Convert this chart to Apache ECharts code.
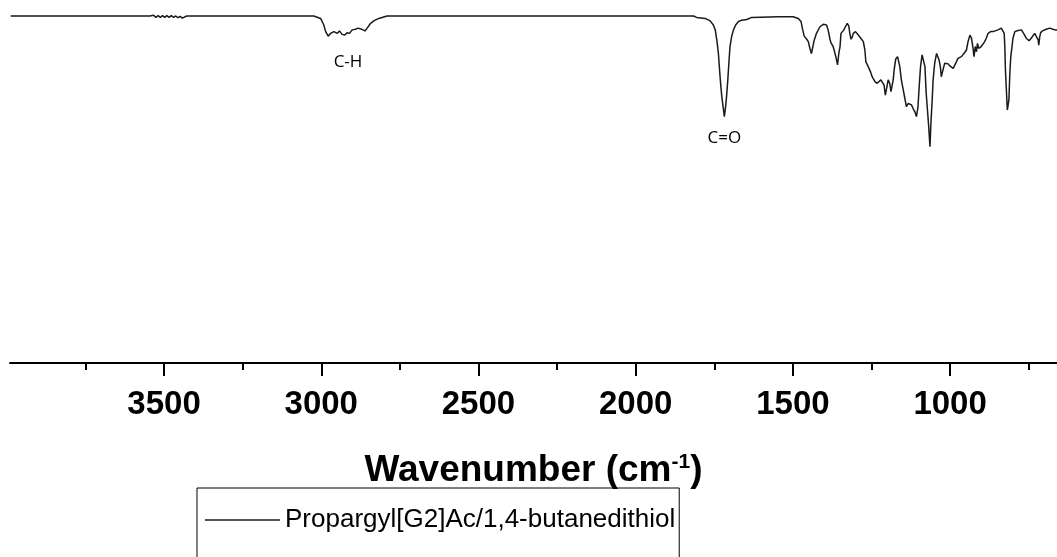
<!DOCTYPE html>
<html>
<head>
<meta charset="utf-8">
<script src="https://cdn.jsdelivr.net/npm/echarts@6/dist/echarts.min.js"></script>
<style>
html,body{margin:0;padding:0;background:#ffffff;}
#chart{width:1057px;height:557px;}
</style>
</head>
<body>
<div id="chart"></div>
<script>
// ---- data (wavenumber in cm^-1, transmittance in %) ----
const wavenumbers = [
  3988, 3600, 3545, 3540, 3533, 3526, 3519, 3512, 3505, 3498, 3491, 3484, 3477, 3470, 3463, 3456, 3449, 3442, 3436, 3428,
  3200, 3024, 3002, 2992, 2986, 2978, 2970, 2960, 2949, 2942, 2934, 2925, 2918, 2910, 2902, 2891, 2883, 2872, 2861, 2854,
  2843, 2833, 2817, 2791, 2500, 2156, 2152, 2148, 1959, 1816, 1806, 1779, 1763, 1753, 1747, 1742, 1737, 1734, 1730, 1726,
  1722, 1718, 1714, 1711, 1707, 1703, 1700, 1695, 1689, 1682, 1673, 1663, 1647, 1631, 1546, 1499, 1483, 1474, 1470, 1464,
  1456, 1451, 1446, 1441, 1435, 1432, 1425, 1414, 1403, 1393, 1388, 1382, 1379, 1375, 1372, 1366, 1361, 1358, 1354, 1350,
  1347, 1343, 1338, 1333, 1327, 1322, 1319, 1315, 1311, 1308, 1301, 1292, 1284, 1276, 1271, 1268, 1263, 1258, 1253, 1248,
  1239, 1232, 1226, 1220, 1215, 1210, 1206, 1201, 1197, 1192, 1188, 1184, 1181, 1178, 1173, 1167, 1160, 1155, 1149, 1144,
  1139, 1133, 1128, 1123, 1118, 1112, 1107, 1102, 1099, 1094, 1089, 1084, 1080, 1076, 1072, 1068, 1064, 1061, 1057, 1054,
  1049, 1043, 1038, 1035, 1031, 1028, 1024, 1020, 1017, 1012, 1006, 1001, 996, 990, 985, 980, 975, 964, 956, 948,
  943, 937, 932, 927, 924, 920, 916, 913, 909, 905, 901, 895, 890, 885, 879, 871, 863, 858, 848, 837,
  832, 828, 826, 824, 821, 818, 813, 810, 807, 803, 800, 794, 784, 773, 768, 763, 758, 749, 742, 736,
  731, 726, 720, 718, 715, 712, 705, 694, 683, 673, 666, 660
];
const transmittance = [
  100, 100, 100, 99.7, 100.2, 99.6, 100.1, 99.6, 100.1, 99.6, 100.1, 99.6, 100.1, 99.6, 100, 99.5, 99.9, 99.4, 99.8, 100,
  100, 100, 99.3, 97.4, 95.5, 94.2, 95.0, 95.5, 95.0, 95.7, 94.7, 94.5, 95.2, 95.0, 96.0, 96.2, 96.5, 96.2, 95.7, 96.5,
  97.9, 98.6, 99.3, 100, 100, 100, 100.5, 100, 100, 100, 99.6, 99.3, 98.6, 97.4, 96.0, 93.1, 89.3, 85.4, 80.6, 76.7,
  73.9, 71.0, 73.9, 76.7, 81.6, 87.3, 91.2, 94.0, 96.0, 97.4, 98.4, 98.8, 99.0, 99.6, 99.8, 99.8, 99.3, 98.4, 96.5, 94.2,
  93.3, 92.6, 90.7, 89.2, 89.2, 93.1, 95.0, 96.9, 97.6, 97.4, 96.0, 93.3, 92.3, 92.6, 91.2, 89.2, 87.3, 85.9, 89.2, 91.2,
  95.0, 95.5, 96.0, 96.9, 97.9, 97.1, 95.0, 93.3, 94.0, 95.0, 95.5, 94.5, 93.6, 92.6, 90.2, 86.8, 85.9, 84.9, 83.9, 82.5,
  81.1, 80.6, 80.1, 81.6, 81.8, 80.1, 77.2, 79.6, 81.6, 80.6, 78.2, 77.7, 81.6, 84.4, 87.6, 88.3, 85.4, 81.6, 78.7, 76.3,
  73.9, 74.8, 75.3, 74.4, 73.4, 72.4, 71.0, 73.9, 78.7, 85.4, 88.8, 89.2, 85.4, 77.7, 72.9, 68.1, 62.3, 69.1, 75.8, 81.6,
  86.4, 89.2, 89.2, 87.3, 85.4, 82.5, 83.0, 85.4, 86.4, 85.9, 86.2, 85.6, 85.9, 84.9, 84.9, 86.8, 87.8, 88.3, 89.2, 90.2,
  92.6, 94.5, 93.6, 90.7, 88.3, 91.2, 89.7, 92.1, 90.7, 90.2, 91.2, 91.6, 92.6, 93.6, 95.0, 95.5, 95.5, 95.8, 96.0, 96.5,
  96.2, 95.0, 91.2, 84.4, 78.7, 72.9, 75.8, 83.5, 88.3, 91.2, 93.6, 95.5, 95.8, 96.0, 95.5, 94.5, 93.6, 92.9, 93.6, 94.0,
  95.0, 94.5, 93.1, 91.6, 94.0, 95.2, 95.8, 96.2, 96.5, 96.2, 96.0, 96.0
];
const majorTicks = [1000, 1500, 2000, 2500, 3000, 3500];
const minorTicks = [750, 1250, 1750, 2250, 2750, 3250, 3750];
const seriesName = 'Propargyl[G2]Ac/1,4-butanedithiol';
const bandLabels = ['C-H', 'C=O'];
const bandWavenumbers = [2915, 1718];
const bandLabelLevels = [86.7, 64.8];

const spectrum = wavenumbers.map((w, i) => [w, transmittance[i]]);
const markData = bandLabels.map((t, i) => ({ name: t, coord: [bandWavenumbers[i], bandLabelLevels[i]] }));

const FONT = "'Liberation Sans', Arial, sans-serif";
const chart = echarts.init(document.getElementById('chart'), null, { renderer: 'canvas' });
chart.setOption({
  backgroundColor: '#ffffff',
  animation: false,
  grid: { left: 10, right: -1, top: 16, bottom: 194, containLabel: false },
  legend: {
    show: true,
    data: [{ name: seriesName, icon: 'rect' }],
    left: 197,
    top: 488,
    padding: [19, 4, 40, 8],
    borderColor: '#000000',
    borderWidth: 1,
    itemWidth: 75,
    itemHeight: 1.5,
    itemGap: 5,
    itemStyle: { color: '#1a1a1a' },
    textStyle: { fontSize: 26, fontFamily: FONT, color: '#000000' }
  },
  xAxis: [
    {
      type: 'value',
      inverse: true,
      min: 660,
      max: 3990,
      position: 'bottom',
      axisLine: { show: true, onZero: false, lineStyle: { color: '#000000', width: 2 } },
      axisTick: { show: true, customValues: majorTicks, length: 13, lineStyle: { color: '#000000', width: 2 } },
      axisLabel: {
        show: true, customValues: majorTicks, margin: 25,
        formatter: (v) => String(v),
        fontSize: 33, fontWeight: 'bold', fontFamily: FONT, color: '#000000'
      },
      splitLine: { show: false },
      name: '{a|Wavenumber (cm}{s|-1}{a|)}',
      nameLocation: 'middle',
      nameGap: 89,
      nameTextStyle: {
        rich: {
          a: { fontSize: 37, fontWeight: 'bold', fontFamily: FONT, color: '#000000', lineHeight: 37 },
          s: { fontSize: 21, fontWeight: 'bold', fontFamily: FONT, color: '#000000', verticalAlign: 'top', lineHeight: 18 }
        }
      }
    },
    {
      type: 'value',
      inverse: true,
      min: 660,
      max: 3990,
      position: 'bottom',
      axisLine: { show: false, onZero: false },
      axisTick: { show: true, customValues: minorTicks, length: 7, lineStyle: { color: '#000000', width: 2 } },
      axisLabel: { show: false },
      splitLine: { show: false }
    }
  ],
  yAxis: {
    type: 'value',
    min: 0,
    max: 100,
    show: false,
    splitLine: { show: false }
  },
  series: [
    {
      name: seriesName,
      type: 'line',
      xAxisIndex: 0,
      data: spectrum,
      showSymbol: false,
      symbol: 'none',
      clip: false,
      smooth: false,
      lineStyle: { color: '#1a1a1a', width: 1.5 },
      itemStyle: { color: '#1a1a1a' },
      markPoint: {
        symbol: 'circle',
        symbolSize: 1,
        itemStyle: { color: 'rgba(0,0,0,0)' },
        label: {
          show: true, position: 'inside', formatter: '{b}',
          fontSize: 17, fontFamily: "'Open Sans', 'Noto Sans', sans-serif", color: '#000000'
        },
        data: markData
      }
    }
  ]
});
</script>
</body>
</html>
